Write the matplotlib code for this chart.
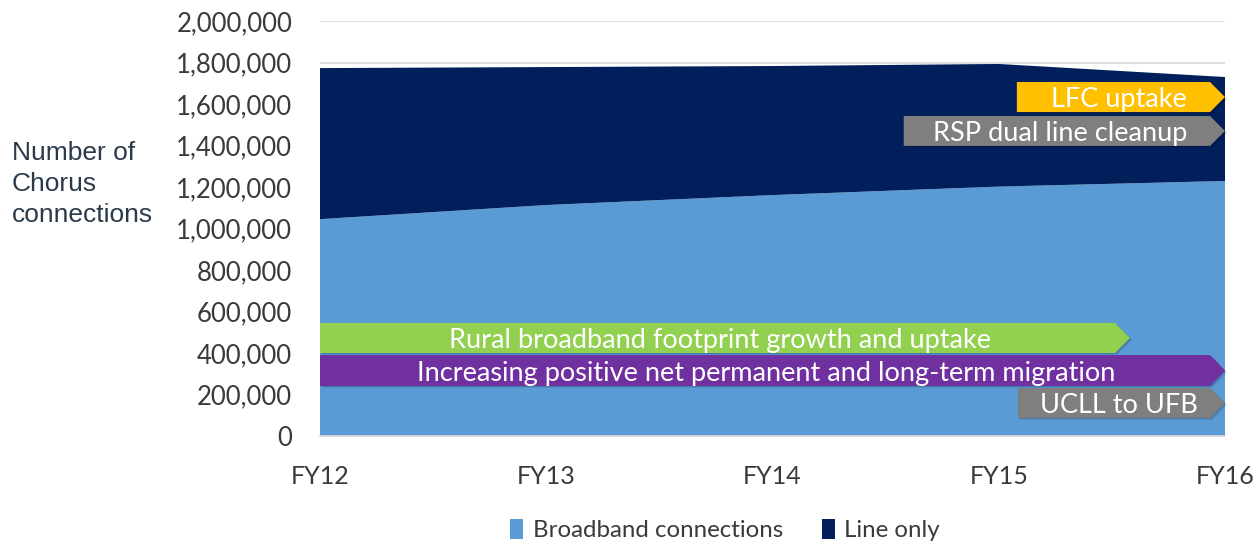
import numpy as np
import matplotlib.pyplot as plt
from matplotlib.patches import Polygon, Patch
from matplotlib.ticker import FuncFormatter

years = ['FY12', 'FY13', 'FY14', 'FY15', 'FY16']
broadband = [1045000, 1113000, 1161000, 1202000, 1229000]
line_only = [728000, 665000, 622000, 591000, 501000]

BLUE = '#5B9BD5'
NAVY = '#001F5B'
TXT = '#3A3A3A'

# driver banners: (label, colour, x start, x tip, y bottom, y top, text x)
banners = [
    ('LFC uptake', '#FFC000', 3.08, 4.0, 1561000, 1706000, 3.53),
    ('RSP dual line cleanup', '#7F7F7F', 2.58, 4.0, 1398000, 1542000, 3.27),
    ('Rural broadband footprint growth and uptake', '#92D050', 0.0, 3.58, 400000, 545000, 1.77),
    ('Increasing positive net permanent and long-term migration', '#7030A0', 0.0, 4.0, 241000, 390000, 1.97),
    ('UCLL to UFB', '#7F7F7F', 3.085, 4.0, 87000, 231000, 3.53),
]
TIP = 0.066

fig = plt.figure(figsize=(12.59, 5.44), dpi=100)
ax = fig.add_axes([320 / 1259, 108 / 544, 905 / 1259, 415 / 544])

x = np.arange(len(years))
ax.stackplot(x, broadband, line_only, colors=[BLUE, NAVY], zorder=2)

ax.set_xlim(0, 4)
ax.set_ylim(0, 2000000)
ax.set_yticks(np.arange(0, 2000001, 200000))
ax.yaxis.set_major_formatter(FuncFormatter(lambda v, p: f'{int(v):,}'))
ax.set_xticks(x)
ax.set_xticklabels(years)
ax.grid(axis='y', color='#D9D9D9', lw=1.2, zorder=1)
for s in ['top', 'right', 'left']:
    ax.spines[s].set_visible(False)
ax.spines['bottom'].set_color('#D9D9D9')
ax.spines['bottom'].set_linewidth(1.2)
ax.spines['bottom'].set_zorder(3)
ax.tick_params(axis='y', length=0, pad=20, labelsize=18.5, labelcolor=TXT)
ax.tick_params(axis='x', length=0, pad=21, labelsize=18, labelcolor=TXT)
for lab in ax.get_xticklabels() + ax.get_yticklabels():
    lab.set_fontfamily('Lato')

for label, col, x0, x1, y0, y1, tx in banners:
    ym = (y0 + y1) / 2
    pts = [(x0, y0), (x1 - TIP, y0), (x1, ym), (x1 - TIP, y1), (x0, y1)]
    # soft drop shadow
    for k, a in [(1, 0.12), (2, 0.08), (3, 0.05)]:
        sh = [(px + 0.004 * k, py - 3500 * k) for px, py in pts]
        ax.add_patch(Polygon(sh, closed=True, fc='black', ec='none', alpha=a,
                             zorder=4, clip_on=False))
    ax.add_patch(Polygon(pts, closed=True, fc=col, ec='none', zorder=5, clip_on=False))
    ax.text(tx, ym, label, color='white', ha='center', va='center_baseline',
            fontsize=19.5, family='Lato', zorder=6)

fig.text(12 / 1259, 1 - 184 / 544, 'Number of\nChorus\nconnections', ha='left', va='center',
         fontsize=19, family='Liberation Sans', color='#2B3A4A', linespacing=1.38)

handles = [Patch(fc=BLUE, ec='none', label='Broadband connections'),
           Patch(fc=NAVY, ec='none', label='Line only')]
leg = fig.legend(handles=handles, loc='center', bbox_to_anchor=(725 / 1259, 14 / 544), ncol=2,
                 frameon=False, handlelength=0.55, handleheight=0.9, handletextpad=0.4,
                 columnspacing=1.6, prop={'family': 'Lato', 'size': 17.3})
for t in leg.get_texts():
    t.set_color(TXT)

fig.savefig('out.png', dpi=100)
